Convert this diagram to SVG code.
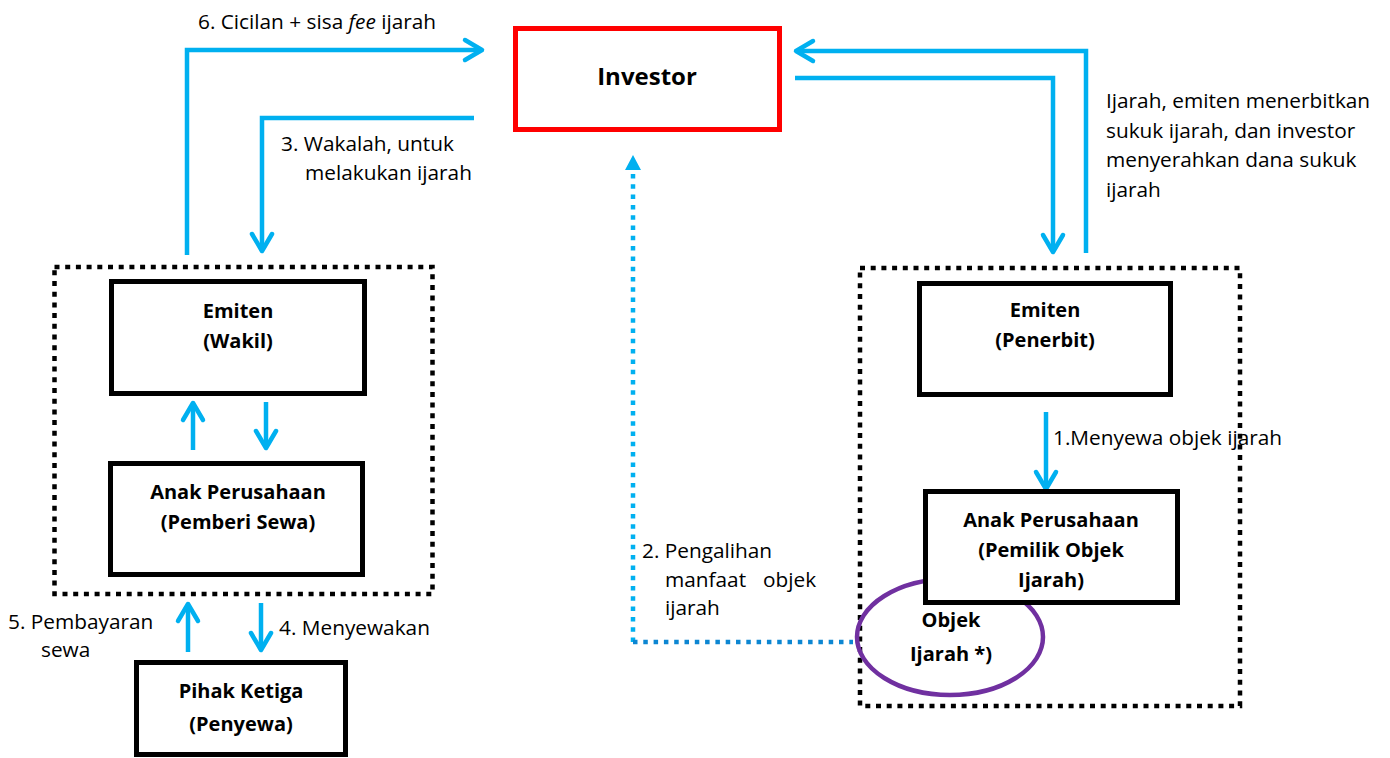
<svg xmlns="http://www.w3.org/2000/svg" width="1390" height="758" viewBox="0 0 1390 758">
  <style>
    .lbl { font-family: "Open Sans", "Noto Sans", sans-serif; font-size: 20.8px; fill: #000; }
    .ttl { font-family: "Open Sans", "Noto Sans", sans-serif; font-size: 20px; font-weight: bold; fill: #000; text-anchor: middle; }
    .big { font-size: 24px; }
    .box { fill: #fff; stroke: #000; stroke-width: 5; }
    .group { fill: none; stroke: #000; stroke-width: 4.5; stroke-dasharray: 5 5.7; }
    .flow { fill: none; stroke: #00B0F0; stroke-width: 4.5; marker-end: url(#chev); }
  </style>
  <defs>
    <marker id="chev" markerUnits="userSpaceOnUse" viewBox="-3 -14 26 28" markerWidth="26" markerHeight="28" refX="19" refY="0" orient="auto" overflow="visible">
      <path d="M3,-10 L20,0 L3,10" fill="none" stroke="#00B0F0" stroke-width="4.5" stroke-linecap="round" stroke-linejoin="round"/>
    </marker>
    <marker id="tri" markerUnits="userSpaceOnUse" viewBox="0 -8 16 16" markerWidth="16" markerHeight="16" refX="2" refY="0" orient="auto" overflow="visible">
      <path d="M0,-8 L15,0 L0,8 Z" fill="#00B0F0"/>
    </marker>
  </defs>

  <rect width="1390" height="758" fill="#fff"/>

  <!-- grouping frames -->
  <rect id="group-left" class="group" x="54.5" y="267" width="378" height="327"/>
  <rect id="group-right" class="group" x="860" y="268" width="380" height="438"/>

  <!-- connectors -->
  <g id="connectors">
    <path class="flow" d="M187,255 V50 H481"/>
    <path class="flow" d="M474,118 H262 V250"/>
    <path class="flow" d="M1086,253 V51 H797"/>
    <path class="flow" d="M795,78 H1053 V251"/>
    <path class="flow" d="M193,450 V404"/>
    <path class="flow" d="M266,402 V447"/>
    <path class="flow" d="M188,652 V605"/>
    <path class="flow" d="M261,603 V649"/>
    <path class="flow" d="M1046,412 V488"/>
    <path d="M633,642 V168" fill="none" stroke="#00B0F0" stroke-width="4.5" stroke-dasharray="4.5 5.8" marker-end="url(#tri)"/>
    <path d="M633,642 H853" fill="none" stroke="#0C86D2" stroke-width="4.5" stroke-dasharray="4.5 5.8"/>
  </g>

  <!-- connector labels -->
  <g id="labels">
    <text class="lbl" x="198" y="29">6. Cicilan + sisa <tspan font-style="italic">fee</tspan> ijarah</text>
    <text class="lbl" x="281" y="151">3. Wakalah, untuk</text>
    <text class="lbl" x="305" y="180">melakukan ijarah</text>
    <text class="lbl" x="1106" y="108">Ijarah, emiten menerbitkan</text>
    <text class="lbl" x="1106" y="138">sukuk ijarah, dan investor</text>
    <text class="lbl" x="1106" y="167">menyerahkan dana sukuk</text>
    <text class="lbl" x="1106" y="197">ijarah</text>
    <text class="lbl" x="1053" y="445">1.Menyewa objek ijarah</text>
    <text class="lbl" x="642" y="558">2. Pengalihan</text>
    <text class="lbl" x="665" y="587">manfaat</text>
    <text class="lbl" x="763" y="587">objek</text>
    <text class="lbl" x="665" y="615">ijarah</text>
    <text class="lbl" x="8" y="629">5. Pembayaran</text>
    <text class="lbl" x="41" y="657">sewa</text>
    <text class="lbl" x="279" y="635">4. Menyewakan</text>
  </g>

  <g id="investor">
    <rect x="515.5" y="28.5" width="264" height="101" fill="#fff" stroke="#FF0000" stroke-width="5"/>
    <text class="ttl big" x="647" y="85">Investor</text>
  </g>

  <g id="emiten-wakil">
    <rect class="box" x="111.5" y="281.5" width="253" height="112"/>
    <text class="ttl" x="238" y="318">Emiten</text>
    <text class="ttl" x="238" y="348">(Wakil)</text>
  </g>

  <g id="anak-pemberi-sewa">
    <rect class="box" x="110.5" y="463.5" width="252" height="111"/>
    <text class="ttl" x="238" y="499">Anak Perusahaan</text>
    <text class="ttl" x="238" y="529">(Pemberi Sewa)</text>
  </g>

  <g id="pihak-ketiga">
    <rect class="box" x="136.5" y="662.5" width="209" height="92"/>
    <text class="ttl" x="241" y="698">Pihak Ketiga</text>
    <text class="ttl" x="241" y="731">(Penyewa)</text>
  </g>

  <g id="emiten-penerbit">
    <rect class="box" x="919.5" y="283.5" width="251" height="111"/>
    <text class="ttl" x="1045" y="317">Emiten</text>
    <text class="ttl" x="1045" y="347">(Penerbit)</text>
  </g>

  <g id="objek-ijarah">
    <ellipse cx="950" cy="637" rx="93" ry="58" fill="none" stroke="#7030A0" stroke-width="4.5"/>
    <text class="ttl" x="951" y="627">Objek</text>
    <text class="ttl" x="951" y="661">Ijarah *)</text>
  </g>

  <g id="anak-pemilik-objek">
    <rect class="box" x="925.5" y="491.5" width="252" height="111"/>
    <text class="ttl" x="1051" y="527">Anak Perusahaan</text>
    <text class="ttl" x="1051" y="557">(Pemilik Objek</text>
    <text class="ttl" x="1051" y="587">Ijarah)</text>
  </g>
</svg>
